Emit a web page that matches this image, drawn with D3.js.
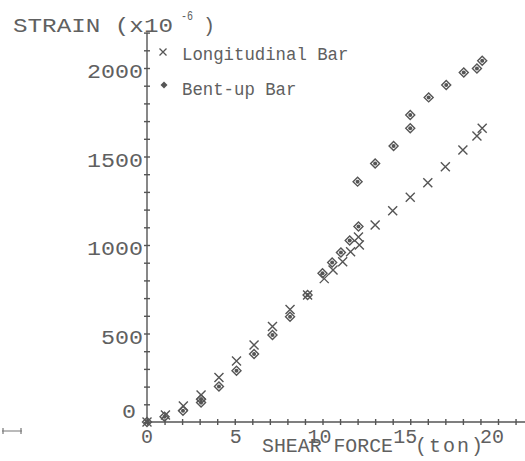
<!DOCTYPE html>
<html lang="en">
<head>
    <meta charset="UTF-8">
    <title>Strain vs shear force</title>
    <script src="https://d3js.org/d3.v7.min.js"></script>
    <style>
        body { margin: 0; background: #fff; }
        svg { display: block; }
        text { font-family: "Liberation Mono", "DejaVu Sans Mono", monospace; fill: #606060; }
    </style>
</head>
<body>
    <div id="chart"></div>
    <script>
        const width = 525;
        const height = 461;

        // Longitudinal bar (x = shear force in ton, y = strain x10^-6)
        const longForce  = [0, 1.05, 2.07, 3.08, 4.1, 5.1, 6.1, 7.15, 8.15, 9.15, 10.1, 10.6, 11.15, 11.6, 12.05, 12.1, 13.0, 14.0, 15.0, 16.0, 17.0, 18.0, 18.8, 19.1];
        const longStrain = [0, 40, 90, 152, 252, 345, 435, 540, 635, 717, 810, 859, 906, 962, 1045, 1000, 1113, 1193, 1270, 1352, 1442, 1537, 1616, 1659];

        // Bent-up bar
        const bentForce  = [0, 1.0, 2.05, 3.08, 3.08, 4.1, 5.1, 6.1, 7.15, 8.15, 9.15, 10.0, 10.55, 11.05, 11.55, 12.05, 12.0, 13.0, 14.05, 15.0, 15.0, 16.05, 17.05, 18.05, 18.8, 19.1];
        const bentStrain = [0, 30, 64, 110, 128, 200, 290, 384, 491, 595, 717, 840, 901, 958, 1025, 1105, 1358, 1461, 1559, 1659, 1734, 1834, 1904, 1975, 1997, 2041];

        const xTicks = [0, 5, 10, 15, 20];
        const yTicks = [0, 500, 1000, 1500, 2000];
        const legendLabels = ["Longitudinal Bar", "Bent-up Bar"];

        const ink = "#555";

        const svg = d3.select("#chart").append("svg")
            .attr("width", width)
            .attr("height", height);

        const x = d3.scaleLinear().domain([0, 20]).range([147, 498]);
        const y = d3.scaleLinear().domain([0, 2000]).range([422, 68]);

        // minor ticks, crossing the axis lines
        const xAxis = d3.axisBottom(x)
            .tickValues(d3.range(0, 23, 1))
            .tickSize(3)
            .tickFormat("");
        const gx = svg.append("g")
            .attr("transform", `translate(0, ${y(0)})`)
            .call(xAxis);
        gx.select(".domain").attr("d", `M${x(0)},0H${x(22)}`);
        gx.selectAll(".tick line").attr("y1", -3);

        const yAxis = d3.axisLeft(y)
            .tickValues(d3.range(0, 2201, 100))
            .tickSize(3)
            .tickFormat("");
        const gy = svg.append("g")
            .attr("transform", `translate(${x(0)}, 0)`)
            .call(yAxis);
        gy.select(".domain").attr("d", `M0,${y(0) + 1}V${y(2200)}`);
        gy.selectAll(".tick line").attr("x1", 3);

        svg.selectAll(".domain, .tick line")
            .attr("stroke", ink)
            .attr("stroke-width", 1.4);

        // tick labels
        svg.append("g").selectAll("text")
            .data(yTicks)
            .join("text")
            .attr("x", d => d === 0 ? 136 : 143)
            .attr("y", d => d === 0 ? y(0) - 4 : y(d) + 10)
            .attr("text-anchor", "end")
            .attr("font-size", 20)
            .attr("textLength", d => String(d).length * 14)
            .attr("lengthAdjust", "spacingAndGlyphs")
            .text(d => d);

        const xShift = [0, 1, -3, -5, -6];
        svg.append("g").selectAll("text")
            .data(xTicks)
            .join("text")
            .attr("x", (d, i) => x(d) + xShift[i])
            .attr("y", 443)
            .attr("text-anchor", "middle")
            .attr("font-size", 20)
            .attr("textLength", d => String(d).length * 12)
            .attr("lengthAdjust", "spacingAndGlyphs")
            .text(d => d);

        // axis titles
        const yTitle = svg.append("g");
        yTitle.append("text").attr("x", 13).attr("y", 32).attr("font-size", 20)
            .attr("textLength", 160).attr("lengthAdjust", "spacingAndGlyphs")
            .text("STRAIN (x10");
        yTitle.append("text").attr("x", 181).attr("y", 20).attr("font-size", 12)
            .attr("textLength", 12).attr("lengthAdjust", "spacingAndGlyphs")
            .text("-6");
        yTitle.append("text").attr("x", 203).attr("y", 32).attr("font-size", 20)
            .text(")");

        svg.append("text").attr("x", 262).attr("y", 452).attr("font-size", 20)
            .attr("textLength", 131).attr("lengthAdjust", "spacingAndGlyphs")
            .text("SHEAR FORCE");
        svg.append("text").attr("x", 415).attr("y", 452).attr("font-size", 20)
            .attr("textLength", 68).attr("lengthAdjust", "spacing")
            .text("(ton)");

        // markers
        const crossPath = s => `M${-s},${-s}L${s},${s}M${-s},${s}L${s},${-s}`;

        function bentMark(g) {
            g.append("path")
                .attr("d", "M0,-4.5L4.5,0L0,4.5L-4.5,0Z")
                .attr("fill", "none")
                .attr("stroke", ink)
                .attr("stroke-width", 1.4);
            g.append("circle")
                .attr("r", 2)
                .attr("fill", ink);
        }

        const longData = longForce.map((f, i) => [f, longStrain[i]]);
        const bentData = bentForce.map((f, i) => [f, bentStrain[i]]);

        svg.append("g").selectAll("path")
            .data(longData)
            .join("path")
            .attr("transform", d => `translate(${x(d[0])}, ${y(d[1])})`)
            .attr("d", crossPath(4.5))
            .attr("stroke", ink)
            .attr("stroke-width", 1.4)
            .attr("fill", "none");

        svg.append("g").selectAll("g")
            .data(bentData)
            .join("g")
            .attr("transform", d => `translate(${x(d[0])}, ${y(d[1])})`)
            .each(function () { bentMark(d3.select(this)); });

        // legend
        const legend = svg.append("g");
        legend.append("path")
            .attr("transform", "translate(163, 52)")
            .attr("d", crossPath(3.5))
            .attr("stroke", ink)
            .attr("stroke-width", 1.3);
        legend.append("g")
            .attr("transform", "translate(164, 85)")
            .call(g => {
                g.append("path").attr("d", "M0,-3.5L3.5,0L0,3.5L-3.5,0Z").attr("fill", ink);
            });
        legend.selectAll("text")
            .data(legendLabels)
            .join("text")
            .attr("x", 182)
            .attr("y", (d, i) => 60 + i * 35)
            .attr("font-size", 18)
            .attr("textLength", d => d.length * 10.4)
            .attr("lengthAdjust", "spacingAndGlyphs")
            .text(d => d);

        // stray scale mark at the lower left
        svg.append("path")
            .attr("d", "M2,431H22M3,428V434M21,428V434")
            .attr("stroke", "#777")
            .attr("stroke-width", 1.2)
            .attr("fill", "none");
    </script>
</body>
</html>
